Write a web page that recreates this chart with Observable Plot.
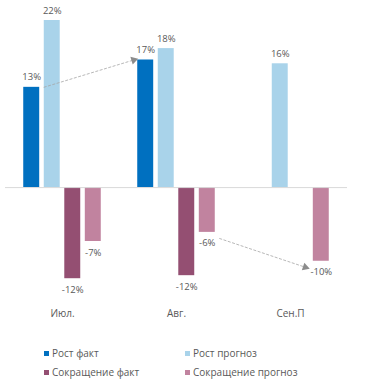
<!DOCTYPE html>
<html><head><meta charset="utf-8">
<script src="https://cdn.jsdelivr.net/npm/d3@7"></script>
<script src="https://cdn.jsdelivr.net/npm/@observablehq/plot@0.6"></script>
<style>
body{margin:0;background:#fff;font-family:"Open Sans",sans-serif;}
#legend{position:relative;width:368px;height:54px;font-size:10px;color:#595959;}
.li{position:absolute;display:flex;align-items:center;white-space:nowrap;}
.sw{width:5px;height:5px;margin-right:3px;}
</style></head>
<body><div id="chart"></div><div id="legend"></div>
<script>
const categories = ["Июл.", "Авг.", "Сен.П"];
const seriesNames = ["Рост факт", "Рост прогноз", "Сокращение факт", "Сокращение прогноз"];
const rostFakt = [13.2, 16.8, null];
const rostPrognoz = [22.0, 18.3, 16.3];
const sokrFakt = [-12.0, -11.6, null];
const sokrPrognoz = [-7.1, -5.9, -9.7];
const colors = ["#0070C0", "#A9D3EA", "#944F72", "#C1839F"];

const seriesValues = [rostFakt, rostPrognoz, sokrFakt, sokrPrognoz];
const STEP = 0.18, W = 0.14;
const pos = (ci, si) => ci + (si - 1.5) * STEP;

const rows = [];
categories.forEach((c, ci) => seriesValues.forEach((vals, si) => {
  const v = vals[ci];
  if (v == null) return;
  rows.push({ci, si, v, x: pos(ci, si), x1: pos(ci, si) - W/2, x2: pos(ci, si) + W/2, fill: colors[si], label: Math.round(v) + "%"});
}));

const W_PX = 368, H_PX = 330, ML = 5, MR = 21, MT = 20, MB = 29;
const xDomain = [-0.5, 2.5], yDomain = [-15, 22];
const xs = Plot.scale({x: {type: "linear", domain: xDomain, range: [ML, W_PX - MR]}});
const ys = Plot.scale({y: {type: "linear", domain: yDomain, range: [H_PX - MB, MT]}});

// trend arrows: [series, fromCategory, toCategory, below]
const arrowDefs = [[0, 0, 1, 0], [3, 1, 2, 1]];
const arrows = arrowDefs.map(([si, a, b, below]) => {
  const d = {
    x1: pos(a, si) + W/2 + 0.035, y1: seriesValues[si][a],
    x2: pos(b, si) - W/2 - (below ? 0.07 : 0.035), y2: seriesValues[si][b], below
  };
  const dx = xs.apply(d.x2) - xs.apply(d.x1), dy = ys.apply(d.y2) - ys.apply(d.y1);
  d.angle = Math.atan2(dx, -dy) * 180 / Math.PI;
  return d;
});

const linkOpts = {x1: "x1", y1: "y1", x2: "x2", y2: "y2", stroke: "#a6a6a6", strokeWidth: 0.8, strokeDasharray: "3,1.5"};
const headOpts = {x: "x2", y: "y2", symbol: "triangle", r: 3, fill: "#8c8c8c", stroke: "none", rotate: "angle"};

const chart = Plot.plot({
  width: W_PX, height: H_PX,
  marginLeft: ML, marginRight: MR, marginTop: MT, marginBottom: MB,
  style: {fontFamily: "Open Sans", fontSize: "9.5px", color: "#595959"},
  x: {domain: xDomain, axis: null},
  y: {domain: yDomain, axis: null},
  marks: [
    Plot.rectY(rows, {x1: "x1", x2: "x2", y: "v", fill: "fill"}),
    Plot.ruleY([0], {stroke: "#d9d9d9", strokeWidth: 1}),
    Plot.text(rows.filter(d => d.v > 0), {x: "x", y: "v", text: "label", dy: -10, fill: "#595959"}),
    Plot.text(rows.filter(d => d.v < 0), {x: "x", y: "v", text: "label", dy: 11, fill: "#595959"}),
    Plot.link(arrows.filter(d => !d.below), linkOpts),
    Plot.link(arrows.filter(d => d.below), {...linkOpts, dy: 6}),
    Plot.dot(arrows.filter(d => !d.below), headOpts),
    Plot.dot(arrows.filter(d => d.below), {...headOpts, dy: 6}),
    Plot.axisX({ticks: [0, 1, 2], tickFormat: i => categories[i], tickSize: 0, tickPadding: 8, fontSize: 10, fill: "#595959"})
  ]
});
document.getElementById("chart").appendChild(chart);

const legend = document.getElementById("legend");
const lpos = [[44, 23], [185, 23], [44, 42], [185, 42]];
seriesNames.forEach((n, i) => {
  const d = document.createElement("div");
  d.className = "li";
  d.style.left = lpos[i][0] + "px";
  d.style.top = (lpos[i][1] - 7) + "px";
  d.innerHTML = `<span class="sw" style="background:${colors[i]}"></span><span>${n}</span>`;
  legend.appendChild(d);
});
</script></body></html>
